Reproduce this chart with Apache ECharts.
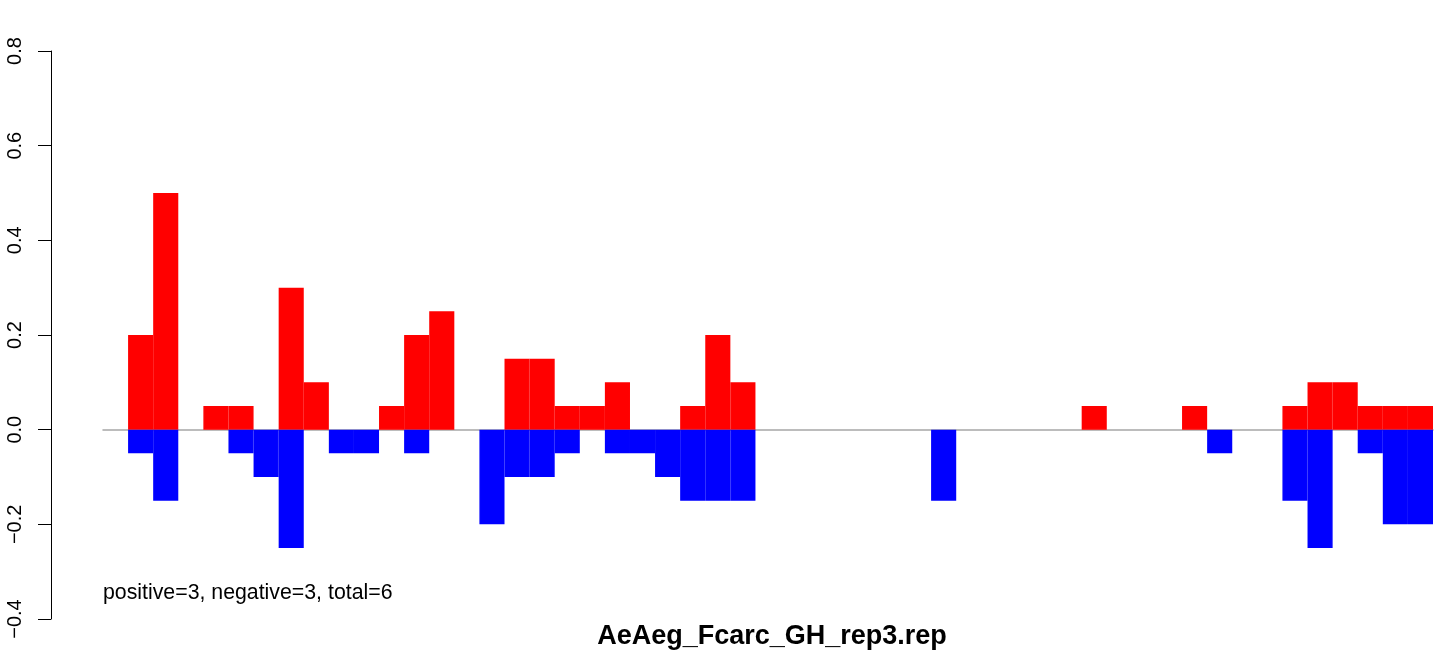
<!DOCTYPE html>
<html>
<head>
<meta charset="utf-8">
<script src="https://cdn.jsdelivr.net/npm/echarts@6/dist/echarts.min.js"></script>
<style>
html,body{margin:0;padding:0;background:#fff;}
#chart{width:1444px;height:656px;}
</style>
</head>
<body>
<div id="chart"></div>
<script>
// 53 bins along the track
const bins = Array.from({length: 53}, (_, i) => String(i + 1));
const positive = [0, 0.2, 0.5, 0, 0.05, 0.05, 0, 0.3, 0.1, 0, 0, 0.05, 0.2, 0.25, 0, 0, 0.15, 0.15, 0.05, 0.05, 0.1, 0, 0, 0.05, 0.2, 0.1,
  0, 0, 0, 0, 0, 0, 0, 0, 0, 0, 0, 0, 0, 0.05, 0, 0, 0, 0.05, 0, 0, 0, 0.05, 0.1, 0.1, 0.05, 0.05, 0.05];
const negative = [0, -0.05, -0.15, 0, 0, -0.05, -0.1, -0.25, 0, -0.05, -0.05, 0, -0.05, 0, 0, -0.2, -0.1, -0.1, -0.05, 0, -0.05, -0.05, -0.1, -0.15, -0.15, -0.15,
  0, 0, 0, 0, 0, 0, 0, -0.15, 0, 0, 0, 0, 0, 0, 0, 0, 0, 0, -0.05, 0, 0, -0.15, -0.25, 0, -0.05, -0.2, -0.2];
const yTicks = [-0.4, -0.2, 0, 0.2, 0.4, 0.6, 0.8];
const summaryText = 'positive=3, negative=3, total=6';
const titleText = 'AeAeg_Fcarc_GH_rep3.rep';

const chart = echarts.init(document.getElementById('chart'), null, {renderer: 'canvas'});
const FONT = '"Liberation Sans", Arial, Helvetica, sans-serif';
const noZero = arr => arr.map(v => (v === 0 ? '-' : v));
chart.setOption({
  animation: false,
  backgroundColor: '#ffffff',
  grid: {left: 103, right: 11, top: 51, bottom: 37, containLabel: false},
  xAxis: {
    type: 'category',
    data: bins,
    boundaryGap: true,
    axisLine: {show: true, onZero: true, lineStyle: {color: '#a6a6a6', width: 1.5}},
    axisTick: {show: false},
    axisLabel: {show: false},
    splitLine: {show: false}
  },
  yAxis: {
    type: 'value',
    min: yTicks[0],
    max: yTicks[yTicks.length - 1],
    interval: 0.2,
    offset: 52,
    axisLine: {show: true, lineStyle: {color: '#000', width: 1}},
    axisTick: {show: true, length: 13, lineStyle: {color: '#000', width: 1}},
    axisLabel: {
      rotate: 90,
      margin: 26,
      color: '#000',
      fontSize: 20,
      fontFamily: FONT,
      formatter: v => (v < 0 ? '\u2212' : '') + Math.abs(v).toFixed(1)
    },
    splitLine: {show: false}
  },
  series: [
    {
      type: 'bar', data: noZero(positive), barWidth: '100%', barGap: '-100%',
      itemStyle: {color: '#ff0000', borderColor: '#ff0000', borderWidth: 1.5}
    },
    {
      type: 'bar', data: noZero(negative), barWidth: '100%', barGap: '-100%',
      itemStyle: {color: '#0000ff', borderColor: '#0000ff', borderWidth: 1.5}
    }
  ],
  graphic: [
    {
      type: 'text', left: 103, top: 583,
      style: {text: summaryText, font: '21.3px ' + FONT, fill: '#000'}
    },
    {
      type: 'text', x: 772, y: 637,
      style: {text: titleText, font: 'bold 27px ' + FONT, fill: '#000', align: 'center', verticalAlign: 'middle'}
    }
  ]
});
</script>
</body>
</html>
